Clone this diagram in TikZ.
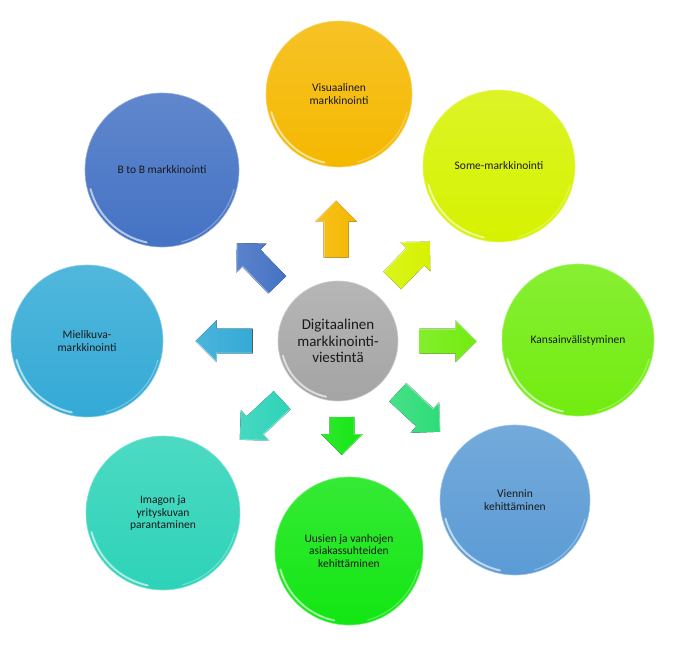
\documentclass[tikz,border=0pt]{standalone}
\usepackage{fontspec}
\setmainfont{Carlito}
\usetikzlibrary{calc}
\definecolor{cVis}{HTML}{F5B800}
\definecolor{cSome}{HTML}{D6F200}
\definecolor{cKan}{HTML}{72EC10}
\definecolor{cVie}{HTML}{5B9BD5}
\definecolor{cUus}{HTML}{12E612}
\definecolor{cIma}{HTML}{2DD3B8}
\definecolor{cMie}{HTML}{33AAD6}
\definecolor{cBtB}{HTML}{4472C4}
\definecolor{cCen}{HTML}{A4A4A4}
\definecolor{cArDR}{HTML}{2EDC78}
\definecolor{txt}{HTML}{1A1A1A}
\tikzset{
  bubble/.style={circle, inner sep=0pt, align=center, text=txt,
    font=\fontsize{11.5}{12.8}\selectfont, line width=0.6pt},
  gloss/.style={white, opacity=0.6, line width=2pt, line cap=round},
  arrowshape/.style={draw=none}
}
\newcommand\mybubble[6]{%
  \node[bubble, minimum size={2*#4pt}, top color=#5!85!white, bottom color=#5, draw=#5!60!white] (#1) at (#2,-#3) {#6};
  \draw[gloss] ([shift={(195:#4-3)}]#1.center) arc[start angle=195, end angle=258, radius=#4-3];
  \draw[white, opacity=0.3, line width=1.2pt] ([shift={(285:#4-2.5)}]#1.center) arc[start angle=285, end angle=345, radius=#4-2.5];
}
\newcommand\myarrow[5]{%
  \begin{scope}[shift={(#1,-#2)}, rotate=#3]
    \fill[arrowshape, left color=#5!88!white, right color=#5]
      ({-#4/2},-12.5) -- ({#4/2-21},-12.5) -- ({#4/2-21},-21) -- ({#4/2},0)
      -- ({#4/2-21},21) -- ({#4/2-21},12.5) -- ({-#4/2},12.5) -- cycle;
    \draw[white, opacity=0.4, line width=1pt] ({-#4/2},12) -- ({#4/2-21},12) -- ({#4/2-21},20.5) -- ({#4/2-0.5},0.5);
  \end{scope}
}
\begin{document}
\begin{tikzpicture}[x=1pt, y=1pt]
\useasboundingbox (0,0) rectangle (690,-654);
\fill[white] (0,0) rectangle (690,-654);

% center
\node[bubble, minimum size=120pt, top color=cCen!80!white, bottom color=cCen, draw=cCen!55!white,
  font=\fontsize{15}{16.5}\selectfont] (cen) at (338,-341) {Digitaalinen\\markkinointi-\\viestintä};
\draw[gloss] ([shift={(195:57)}]cen.center) arc[start angle=195, end angle=258, radius=57];

% outer circles
\mybubble{vis}{339}{94}{73}{cVis}{Visuaalinen\\markkinointi}
\mybubble{some}{499}{166}{76}{cSome}{Some-markkinointi}
\mybubble{kan}{578}{340}{76}{cKan}{Kansainvälistyminen}
\mybubble{vie}{515}{500}{75}{cVie}{Viennin\\kehittäminen}
\mybubble{uus}{349}{551}{74}{cUus}{Uusien ja vanhojen\\asiakassuhteiden\\kehittäminen}
\mybubble{ima}{163}{513}{77}{cIma}{Imagon ja\\yrityskuvan\\parantaminen}
\mybubble{mie}{87}{341}{76}{cMie}{Mielikuva-\\markkinointi}
\mybubble{btb}{162}{170}{77}{cBtB}{B to B markkinointi}

% arrows
\myarrow{336}{229}{90}{57}{cVis}
\myarrow{411}{261}{46}{54}{cSome}
\myarrow{448}{341}{0}{57}{cKan}
\myarrow{419}{412}{-43}{58}{cArDR}
\myarrow{342}{436}{-90}{38}{cUus}
\myarrow{261}{420}{-137}{58}{cIma}
\myarrow{224}{341}{180}{57}{cMie}
\myarrow{257}{264}{134}{58}{cBtB}
\end{tikzpicture}
\end{document}
